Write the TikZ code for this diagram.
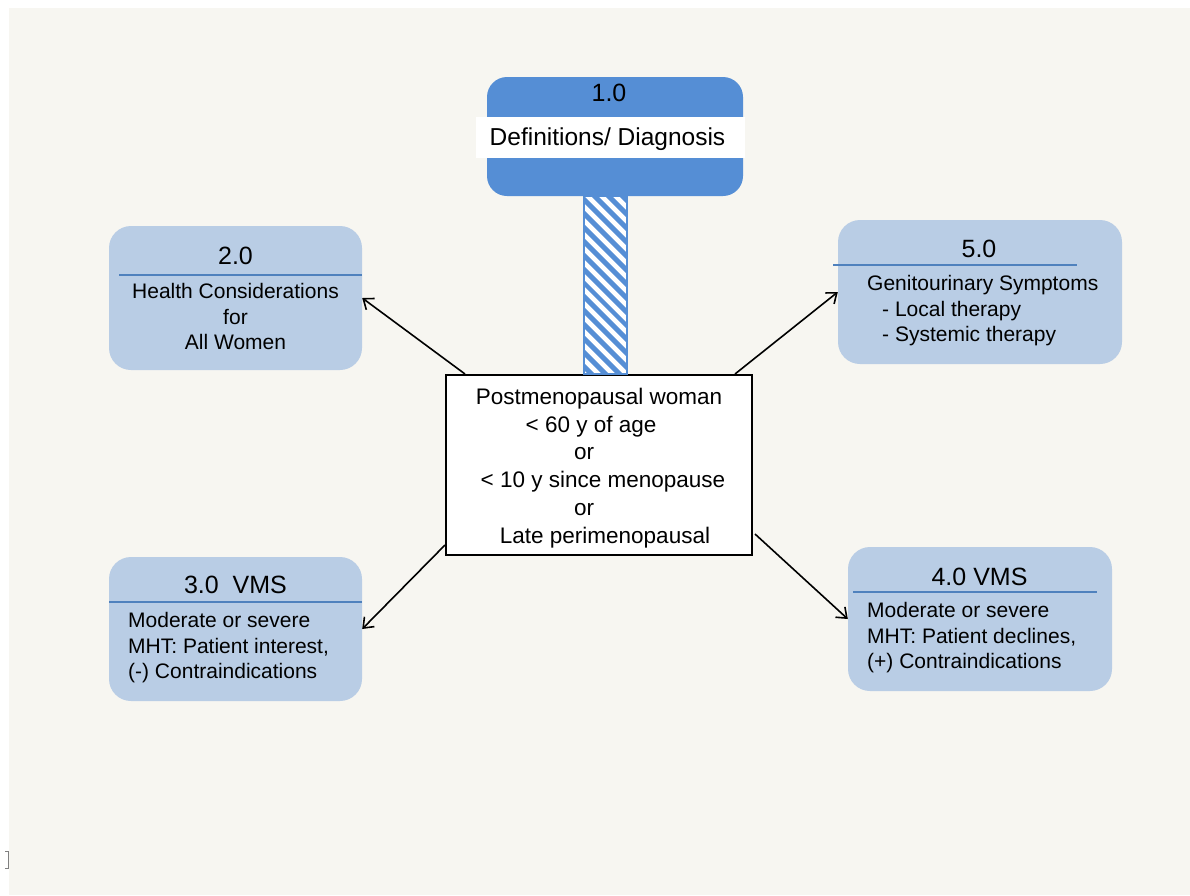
\documentclass[tikz,border=0pt]{standalone}
\usepackage{fontspec}
\setmainfont{Liberation Sans}
\usetikzlibrary{arrows.meta,patterns.meta}
\definecolor{pagebg}{HTML}{F7F6F1}
\definecolor{headblue}{HTML}{558ED5}
\definecolor{boxblue}{HTML}{B9CDE5}
\definecolor{ruleblue}{HTML}{4F81BD}
\begin{document}
\begin{tikzpicture}[
x=1pt, y=-1pt,
topicbox/.style={rectangle, rounded corners=22pt, fill=boxblue, inner sep=0pt, minimum height=144pt},
headbox/.style={rectangle, rounded corners=20pt, fill=headblue, inner sep=0pt},
band/.style={rectangle, fill=white, inner sep=0pt},
centerbox/.style={rectangle, draw=black, line width=2pt, fill=white, inner sep=0pt},
centertext/.style={inner sep=0pt, align=center, font=\fontsize{22.5}{27.8}\selectfont},
title/.style={inner sep=0pt, font=\fontsize{25}{28}\selectfont},
bandtext/.style={inner sep=0pt, font=\fontsize{24.5}{28}\selectfont},
body/.style={inner sep=0pt, font=\fontsize{21}{25.5}\selectfont},
sepline/.style={draw=ruleblue, line width=2.5pt},
arrow/.style={draw, line width=1.6pt, -{Straight Barb[length=9pt,width=14pt]}}
]

\useasboundingbox (0,0) rectangle (1190,895);
\fill[white] (0,0) rectangle (1190,895);
\fill[pagebg] (9,8) rectangle (1190,895);
\draw[gray, line width=1pt] (5,851) -- (8,851) -- (8,868) -- (5,868);

\node[headbox, minimum width=256pt, minimum height=119pt] (defn) at (615,136.5) {};
\node[title] (defnnum) at (609,93) {1.0};
\node[band, minimum width=269pt, minimum height=41pt] (defnband) at (610.5,137.5) {};
\node[bandtext] (defntext) at (607.5,139.5) {Definitions/ Diagnosis};

\node[centerbox, minimum width=306pt, minimum height=180pt] (post) at (599,465) {};
\node[centertext] (posttext) at (599,468) {
    Postmenopausal woman\\
    < 60 y of age\hspace*{16pt}\mbox{}\\
    or\hspace*{30pt}\mbox{}\\
    \hspace*{8pt}< 10 y since menopause\\
    or\hspace*{30pt}\mbox{}\\
    \hspace*{12pt}Late perimenopausal};

\fill[white] ([xshift=-15pt]post.north |- defn.south) rectangle ([xshift=28pt]post.north);
\draw[headblue, line width=1.5pt, pattern={Lines[angle=-45,distance=10.5pt,line width=5.5pt]}, pattern color=headblue]
    ([xshift=-15pt]post.north |- defn.south) rectangle ([xshift=28pt]post.north);

\node[topicbox, minimum width=253pt] (health) at (235.5,298) {};
\node[title] (healthnum) at (235.5,256) {2.0};
\draw[sepline] (119,275) -- (362,275);
\node[body, align=center] (healthtext) at (235.5,316.5) {Health Considerations\\ for\\ All Women};

\node[topicbox, minimum width=284pt] (genito) at (980,292) {};
\node[title] (genitonum) at (979,249) {5.0};
\draw[sepline] (833,265) -- (1077,265);
\node[body, align=left, anchor=west] (genitotext) at (867,311) {Genitourinary Symptoms\\ \hspace*{15pt}- Local therapy\\ \hspace*{15pt}- Systemic therapy};

\node[topicbox, minimum width=253pt] (vmsyes) at (235.5,629) {};
\node[title] (vmsyesnum) at (235.5,585) {3.0~~VMS};
\draw[sepline] (109,602) -- (362,602);
\node[body, align=left, anchor=west] (vmsyestext) at (128,648) {Moderate or severe\\ MHT: Patient interest,\\ (-) Contraindications};

\node[topicbox, minimum width=264pt] (vmsno) at (980,619) {};
\node[title] (vmsnonum) at (979.5,577) {4.0 VMS};
\draw[sepline] (853,592) -- (1097,592);
\node[body, align=left, anchor=west] (vmsnotext) at (867,638) {Moderate or severe\\ MHT: Patient declines,\\ (+) Contraindications};

\draw[arrow] ([xshift=20pt]post.north west) -- (health.east);
\draw[arrow] ([xshift=-18pt]post.north east) -- (genito.west);
\draw[arrow] ([yshift=11pt]post.south west) -- (vmsyes.east);
\draw[arrow] ([xshift=2pt,yshift=22pt]post.south east) -- (vmsno.west);

\end{tikzpicture}
\end{document}
